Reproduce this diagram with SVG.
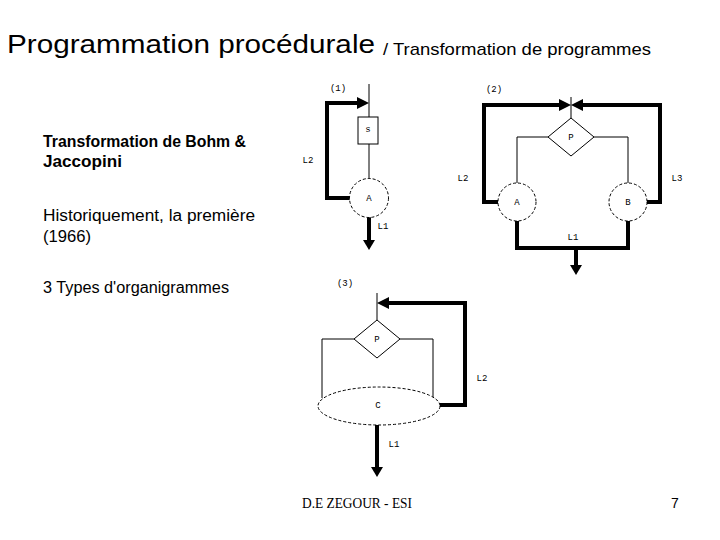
<svg xmlns="http://www.w3.org/2000/svg" width="720" height="540" viewBox="0 0 720 540">
<defs>
<style>
.thin{fill:none;stroke:#000;stroke-width:1}
.thick{fill:none;stroke:#000;stroke-width:4}
.dash{fill:#fff;stroke:#000;stroke-width:1;stroke-dasharray:3 2}
.shape{fill:#fff;stroke:#000;stroke-width:1}
.lbl{font-family:"Liberation Mono",monospace;font-size:9px;fill:#000}
.side{font-family:"Liberation Sans",sans-serif;font-size:16px;fill:#000}
</style>
</defs>
<rect width="720" height="540" fill="#fff"/>
<text x="7" y="53" font-family="Liberation Sans,sans-serif" font-size="26" textLength="368" lengthAdjust="spacingAndGlyphs">Programmation procédurale</text>
<text x="383" y="55" font-family="Liberation Sans,sans-serif" font-size="17" textLength="268" lengthAdjust="spacingAndGlyphs">/ Transformation de programmes</text>
<g id="side-text">
<text class="side" x="43" y="147" font-weight="bold" textLength="203" lengthAdjust="spacingAndGlyphs">Transformation de Bohm &amp;</text>
<text class="side" x="43" y="167" font-weight="bold" textLength="79" lengthAdjust="spacingAndGlyphs">Jaccopini</text>
<text class="side" x="43" y="221" textLength="212" lengthAdjust="spacingAndGlyphs">Historiquement, la première</text>
<text class="side" x="43" y="242" textLength="48" lengthAdjust="spacingAndGlyphs">(1966)</text>
<text class="side" x="43" y="293" textLength="186" lengthAdjust="spacingAndGlyphs">3 Types d'organigrammes</text>
</g>
<g id="connectors">
<path class="thin" d="M369,84 V179"/>
<path class="thick" d="M350,198 H327 V103 H362"/>
<path d="M357,97 L369,103 L357,109 Z" fill="#000"/>
<path class="thick" d="M369,217 V242"/>
<path d="M363,240 L369,250 L375,240 Z" fill="#000"/>
<path class="thin" d="M571,97 V118"/>
<path class="thin" d="M548,137 H517 V183"/>
<path class="thin" d="M594,137 H628 V183"/>
<path class="thick" d="M498,202 H484 V105 H562"/>
<path d="M559,99 L571,105 L559,111 Z" fill="#000"/>
<path class="thick" d="M647,202 H660 V105 H580"/>
<path d="M583,99 L571,105 L583,111 Z" fill="#000"/>
<path class="thick" d="M517,221 V248 H628 V221"/>
<path class="thick" d="M576,248 V267"/>
<path d="M570,265 L576,275 L582,265 Z" fill="#000"/>
<path class="thin" d="M377,293 V320"/>
<path class="thin" d="M354,339 H322 V398"/>
<path class="thin" d="M400,339 H433 V398"/>
<path class="thick" d="M440,405 H465 V303 H386"/>
<path d="M389,297 L377,303 L389,309 Z" fill="#000"/>
<path class="thick" d="M377,425 V469"/>
<path d="M371,467 L377,477 L383,467 Z" fill="#000"/>
</g>
<g id="labels">
<text class="lbl" x="338" y="91" text-anchor="middle">(1)</text>
<text class="lbl" x="308" y="163" text-anchor="middle">L2</text>
<text class="lbl" x="383" y="229" text-anchor="middle">L1</text>
<text class="lbl" x="494" y="92" text-anchor="middle">(2)</text>
<text class="lbl" x="463" y="181" text-anchor="middle">L2</text>
<text class="lbl" x="677" y="181" text-anchor="middle">L3</text>
<text class="lbl" x="573" y="240" text-anchor="middle">L1</text>
<text class="lbl" x="345" y="286" text-anchor="middle">(3)</text>
<text class="lbl" x="482" y="381" text-anchor="middle">L2</text>
<text class="lbl" x="394" y="447" text-anchor="middle">L1</text>
</g>
<g id="node-s">
<rect class="shape" x="358" y="117" width="20" height="27"/>
<text class="lbl" x="368" y="132" text-anchor="middle">s</text>
</g>
<g id="node-A1">
<circle class="dash" cx="369" cy="198" r="19.5"/>
<text class="lbl" x="369" y="201" text-anchor="middle">A</text>
</g>
<g id="node-P2">
<path class="shape" d="M571,118 L594,137 L571,156 L548,137 Z"/>
<text class="lbl" x="571" y="140" text-anchor="middle">P</text>
</g>
<g id="node-A2">
<circle class="dash" cx="517" cy="202" r="19"/>
<text class="lbl" x="517" y="205" text-anchor="middle">A</text>
</g>
<g id="node-B2">
<circle class="dash" cx="628" cy="202" r="19"/>
<text class="lbl" x="628" y="205" text-anchor="middle">B</text>
</g>
<g id="node-P3">
<path class="shape" d="M377,320 L400,339 L377,358 L354,339 Z"/>
<text class="lbl" x="377" y="342" text-anchor="middle">P</text>
</g>
<g id="node-C3">
<ellipse class="dash" cx="379" cy="406" rx="61" ry="19"/>
<text class="lbl" x="378" y="408" text-anchor="middle">C</text>
</g>
<text x="357" y="508" font-family="Liberation Serif,serif" font-size="15" text-anchor="middle" textLength="110" lengthAdjust="spacingAndGlyphs">D.E ZEGOUR - ESI</text>
<text x="671" y="508" font-family="Liberation Sans,sans-serif" font-size="14">7</text>
</svg>
